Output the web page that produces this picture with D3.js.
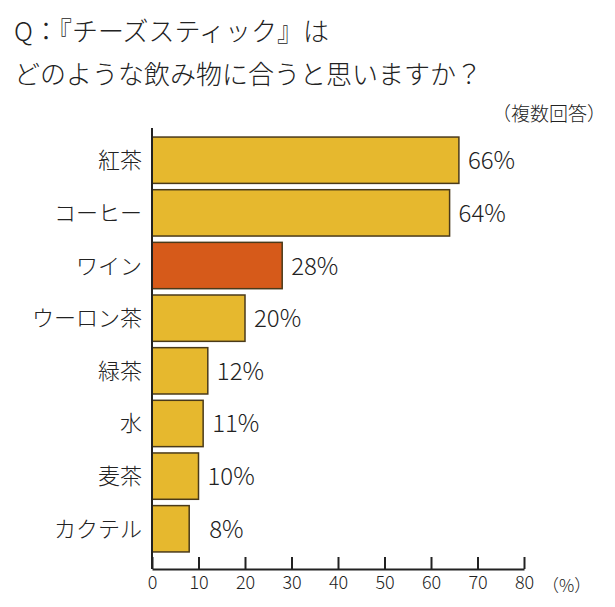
<!DOCTYPE html>
<html><head><meta charset="utf-8">
<script src="https://cdn.jsdelivr.net/npm/d3@7"></script>
<style>body{margin:0;background:#fff}text{font-family:"Noto Sans CJK JP",sans-serif;font-weight:300;fill:#222}</style>
</head><body><svg></svg>
<script>
const categories = ["紅茶", "コーヒー", "ワイン", "ウーロン茶", "緑茶", "水", "麦茶", "カクテル"];
const values = [66, 64, 28, 20, 12, 11, 10, 8];
const highlight = ["ワイン"];
const ticks = [0, 10, 20, 30, 40, 50, 60, 70, 80];

const w = 615, h = 607;
const svg = d3.select("svg").attr("width", w).attr("height", h);

const x = d3.scaleLinear().domain([0, 80]).range([152, 524]);
const y = d3.scaleBand().domain(categories).range([136, 553]).paddingInner(0.12).paddingOuter(0.02);
const axisY = 569;

svg.append("text").attr("x", 14).attr("y", 41).attr("font-size", 26).text("Q：『チーズスティック』は");
svg.append("text").attr("x", 14).attr("y", 84).attr("font-size", 26).text("どのような飲み物に合うと思いますか？");
svg.append("text").attr("x", 606).attr("y", 121).attr("font-size", 19).attr("text-anchor", "end").text("（複数回答）");

svg.selectAll("rect.bar").data(categories).enter().append("rect")
  .attr("x", x(0))
  .attr("y", d => y(d))
  .attr("width", (d, i) => x(values[i]) - x(0))
  .attr("height", y.bandwidth())
  .attr("fill", d => highlight.includes(d) ? "#D65A1A" : "#E6B82E")
  .attr("stroke", "#4a3a1a").attr("stroke-width", 1.5);

svg.selectAll("text.cat").data(categories).enter().append("text")
  .attr("x", 142).attr("y", d => y(d) + y.bandwidth() / 2 + 8)
  .attr("text-anchor", "end").attr("font-size", 22).text(d => d);

svg.selectAll("text.val").data(categories).enter().append("text")
  .attr("x", (d, i) => x(values[i]) + (values[i] < 10 ? 20 : 9))
  .attr("y", d => y(d) + y.bandwidth() / 2 + 9)
  .attr("font-size", 24).text((d, i) => values[i] + "%");

const axis = d3.axisBottom(x).tickValues(ticks).tickSize(-12).tickPadding(6).tickSizeOuter(0);
const ag = svg.append("g").attr("transform", `translate(0,${axisY})`).call(axis);
ag.select(".domain").attr("stroke", "#222").attr("stroke-width", 2);
ag.selectAll(".tick line").attr("stroke", "#222").attr("stroke-width", 2);
ag.selectAll(".tick text").attr("font-size", 18).attr("dy", "0.75em")
  .style("font-family", "'Noto Sans CJK JP',sans-serif").style("font-weight", 300).attr("fill", "#333");
svg.append("text").attr("x", 542).attr("y", 592).attr("font-size", 17).text("（%）");

svg.append("line").attr("x1", x(0)).attr("x2", x(0)).attr("y1", 128).attr("y2", axisY)
  .attr("stroke", "#222").attr("stroke-width", 2);
</script></body></html>
